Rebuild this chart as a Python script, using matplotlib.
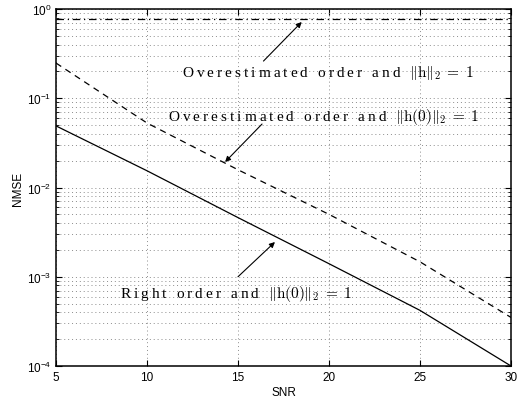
import matplotlib
matplotlib.use("Agg")
import matplotlib.pyplot as plt
from matplotlib.ticker import LogLocator, NullFormatter, FixedLocator

snr = [5, 10, 15, 20, 25, 30]
nmse_right = [0.049, 0.0154, 0.0046, 0.0014, 0.00042, 0.0001]
nmse_over_h0 = [0.248, 0.0528, 0.0158, 0.0050, 0.00147, 0.00035]
nmse_over_h = [0.77, 0.77, 0.77, 0.77, 0.77, 0.77]
xticks = [5, 10, 15, 20, 25, 30]

words_over = "Overestimated order and "
words_right = "Right order and "
math_h = r"$\Vert\mathrm{h}\Vert_2\;=\;1$"
math_h0 = r"$\Vert\mathrm{h}(0)\Vert_2\;=\;1$"


def spaced(s):
    # letter-spaced lettering, like the reference
    return "\u2009".join(s)


plt.rcParams['font.family'] = ['Liberation Sans', 'DejaVu Sans']
plt.rcParams['mathtext.fontset'] = 'cm'

fig = plt.figure(figsize=(5.2, 4.02), dpi=100)
ax = fig.add_axes([56/520, 35/402, 455/520, 357/402])

ax.plot(snr, nmse_right, color='black', lw=0.9, ls='-')
ax.plot(snr, nmse_over_h0, color='black', lw=0.9, ls=(0, (5, 4)))
ax.plot(snr, nmse_over_h, color='black', lw=0.9, ls=(0, (6, 3, 1, 3)))

ax.set_yscale('log')
ax.set_xlim(5, 30)
ax.set_ylim(1e-4, 1)
ax.xaxis.set_major_locator(FixedLocator(xticks))
ax.yaxis.set_major_locator(LogLocator(base=10, numticks=10))
ax.yaxis.set_minor_locator(LogLocator(base=10, subs=range(2, 10), numticks=10))
ax.yaxis.set_minor_formatter(NullFormatter())

gkw = dict(color='0.55', ls=(0, (1, 3)), lw=0.7)
ax.grid(True, which='major', axis='both', **gkw)
ax.grid(True, which='minor', axis='y', **gkw)

ax.tick_params(which='both', direction='in', top=True, right=True, labelsize=8.5)
ax.tick_params(which='major', length=4, width=0.8)
ax.tick_params(which='minor', length=2, width=0.6)
for s in ax.spines.values():
    s.set_linewidth(1.1)

ax.set_xlabel('SNR', fontsize=8.5, labelpad=2)
ax.set_ylabel('NMSE', fontsize=8.5, labelpad=2)

tf = dict(family=['Liberation Serif', 'DejaVu Serif'], fontsize=11)
ax.text(11.92, 0.197, spaced(words_over) + "\u2009" + math_h, ha='left', va='center', **tf)
ax.text(11.15, 0.0633, spaced(words_over) + "\u2009" + math_h0, ha='left', va='center', **tf)
ax.text(8.52, 6.6e-4, spaced(words_right) + "\u2009" + math_h0, ha='left', va='center', **tf)

ap = dict(arrowstyle='-|>', color='black', lw=0.8, mutation_scale=8, shrinkA=0, shrinkB=0)
ax.annotate('', xy=(18.5, 0.715), xytext=(16.4, 0.261), arrowprops=ap)
ax.annotate('', xy=(14.29, 0.0193), xytext=(16.32, 0.0514), arrowprops=ap)
ax.annotate('', xy=(17.03, 0.00245), xytext=(15.0, 0.001), arrowprops=ap)

fig.savefig('out.png', dpi=100)
